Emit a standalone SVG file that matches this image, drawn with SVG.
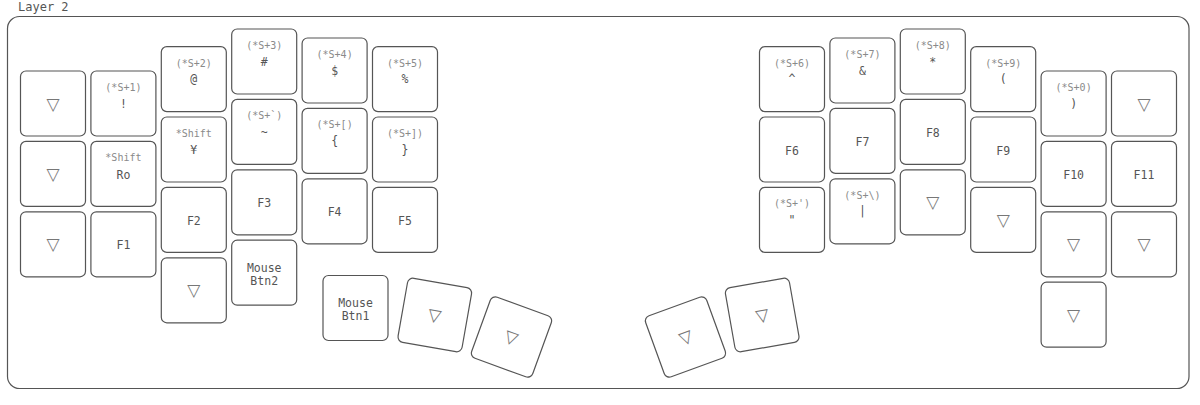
<svg xmlns="http://www.w3.org/2000/svg" width="1200" height="405" viewBox="0 0 1200 405">
<style>
text{font-family:"DejaVu Sans Mono","Liberation Mono",monospace;text-anchor:middle;dominant-baseline:central}
.title{font-size:12px;fill:#555;text-anchor:start}
.board{fill:#fff;stroke:#555;stroke-width:1.2}
.key{fill:#fff;stroke:#555;stroke-width:1.2}
.m{font-size:11.5px;fill:#555}
.s{font-size:10px;fill:#8a8a8a}
.t{font-size:17px;fill:#777;font-family:"DejaVu Sans",sans-serif}
</style>
<defs>
<rect id="k" class="key" x="-32.5" y="-32.5" width="65" height="65" rx="5.5"/>
</defs>
<rect width="1200" height="405" fill="#fff"/>
<text class="title" x="18" y="7">Layer 2</text>
<rect class="board" x="7.5" y="16.5" width="1181.5" height="372" rx="12"/>
<g id="connectors"></g>
<!-- left col0 -->
<g id="k_l0_0" transform="translate(53,103.5)"><use href="#k"/><text class="t" y="0">▽</text></g>
<g id="k_l0_1" transform="translate(53,173.9)"><use href="#k"/><text class="t" y="0">▽</text></g>
<g id="k_l0_2" transform="translate(53,244.3)"><use href="#k"/><text class="t" y="0">▽</text></g>
<!-- col1 -->
<g id="k_l1_0" transform="translate(123.4,103.5)"><use href="#k"/><text class="s" y="-16">(*S+1)</text><text class="m" y="0">!</text></g>
<g id="k_l1_1" transform="translate(123.4,173.9)"><use href="#k"/><text class="s" y="-16">*Shift</text><text class="m" y="1">Ro</text></g>
<g id="k_l1_2" transform="translate(123.4,244.3)"><use href="#k"/><text class="m" y="1">F1</text></g>
<!-- col2 -->
<g id="k_l2_0" transform="translate(193.8,79.1)"><use href="#k"/><text class="s" y="-16">(*S+2)</text><text class="m" y="0">@</text></g>
<g id="k_l2_1" transform="translate(193.8,149.5)"><use href="#k"/><text class="s" y="-16">*Shift</text><text class="m" y="0">¥</text></g>
<g id="k_l2_2" transform="translate(193.8,219.9)"><use href="#k"/><text class="m" y="1">F2</text></g>
<g id="k_l2_3" transform="translate(193.8,290.3)"><use href="#k"/><text class="t" y="0">▽</text></g>
<!-- col3 -->
<g id="k_l3_0" transform="translate(264.2,61.5)"><use href="#k"/><text class="s" y="-16">(*S+3)</text><text class="m" y="0">#</text></g>
<g id="k_l3_1" transform="translate(264.2,131.9)"><use href="#k"/><text class="s" y="-16">(*S+`)</text><text class="m" y="0">~</text></g>
<g id="k_l3_2" transform="translate(264.2,202.3)"><use href="#k"/><text class="m" y="1">F3</text></g>
<g id="k_l3_3" transform="translate(264.2,272.7)"><use href="#k"/><text class="m" y="-5">Mouse</text><text class="m" y="8">Btn2</text></g>
<!-- col4 -->
<g id="k_l4_0" transform="translate(334.6,70.5)"><use href="#k"/><text class="s" y="-16">(*S+4)</text><text class="m" y="0">$</text></g>
<g id="k_l4_1" transform="translate(334.6,140.9)"><use href="#k"/><text class="s" y="-16">(*S+[)</text><text class="m" y="0">{</text></g>
<g id="k_l4_2" transform="translate(334.6,211.3)"><use href="#k"/><text class="m" y="1">F4</text></g>
<!-- col5 -->
<g id="k_l5_0" transform="translate(405,79.1)"><use href="#k"/><text class="s" y="-16">(*S+5)</text><text class="m" y="0">%</text></g>
<g id="k_l5_1" transform="translate(405,149.5)"><use href="#k"/><text class="s" y="-16">(*S+])</text><text class="m" y="0">}</text></g>
<g id="k_l5_2" transform="translate(405,219.9)"><use href="#k"/><text class="m" y="1">F5</text></g>
<!-- left thumbs -->
<g id="k_lt_0" transform="translate(355.5,308)"><use href="#k"/><text class="m" y="-5">Mouse</text><text class="m" y="8">Btn1</text></g>
<g id="k_lt_1" transform="translate(434.8,315) rotate(10)"><use href="#k"/><text class="t" y="0">▽</text></g>
<g id="k_lt_2" transform="translate(511.5,337) rotate(20)"><use href="#k"/><text class="t" y="0">▽</text></g>
<!-- right thumbs -->
<g id="k_rt_0" transform="translate(685.5,337) rotate(-20)"><use href="#k"/><text class="t" y="0">▽</text></g>
<g id="k_rt_1" transform="translate(762.2,315) rotate(-10)"><use href="#k"/><text class="t" y="0">▽</text></g>
<!-- col6 -->
<g id="k_r6_0" transform="translate(792,79.1)"><use href="#k"/><text class="s" y="-16">(*S+6)</text><text class="m" y="0">^</text></g>
<g id="k_r6_1" transform="translate(792,149.5)"><use href="#k"/><text class="m" y="1">F6</text></g>
<g id="k_r6_2" transform="translate(792,219.9)"><use href="#k"/><text class="s" y="-16">(*S+')</text><text class="m" y="0">"</text></g>
<!-- col7 -->
<g id="k_r7_0" transform="translate(862.4,70.5)"><use href="#k"/><text class="s" y="-16">(*S+7)</text><text class="m" y="0">&amp;</text></g>
<g id="k_r7_1" transform="translate(862.4,140.9)"><use href="#k"/><text class="m" y="1">F7</text></g>
<g id="k_r7_2" transform="translate(862.4,211.3)"><use href="#k"/><text class="s" y="-16">(*S+\)</text><text class="m" y="0">|</text></g>
<!-- col8 -->
<g id="k_r8_0" transform="translate(932.8,61.5)"><use href="#k"/><text class="s" y="-16">(*S+8)</text><text class="m" y="0">*</text></g>
<g id="k_r8_1" transform="translate(932.8,131.9)"><use href="#k"/><text class="m" y="1">F8</text></g>
<g id="k_r8_2" transform="translate(932.8,202.3)"><use href="#k"/><text class="t" y="0">▽</text></g>
<!-- col9 -->
<g id="k_r9_0" transform="translate(1003.2,79.1)"><use href="#k"/><text class="s" y="-16">(*S+9)</text><text class="m" y="0">(</text></g>
<g id="k_r9_1" transform="translate(1003.2,149.5)"><use href="#k"/><text class="m" y="1">F9</text></g>
<g id="k_r9_2" transform="translate(1003.2,219.9)"><use href="#k"/><text class="t" y="0">▽</text></g>
<!-- col10 -->
<g id="k_r10_0" transform="translate(1073.6,103.5)"><use href="#k"/><text class="s" y="-16">(*S+0)</text><text class="m" y="0">)</text></g>
<g id="k_r10_1" transform="translate(1073.6,173.9)"><use href="#k"/><text class="m" y="1">F10</text></g>
<g id="k_r10_2" transform="translate(1073.6,244.3)"><use href="#k"/><text class="t" y="0">▽</text></g>
<g id="k_r10_3" transform="translate(1073.6,314.7)"><use href="#k"/><text class="t" y="0">▽</text></g>
<!-- col11 -->
<g id="k_r11_0" transform="translate(1144,103.5)"><use href="#k"/><text class="t" y="0">▽</text></g>
<g id="k_r11_1" transform="translate(1144,173.9)"><use href="#k"/><text class="m" y="1">F11</text></g>
<g id="k_r11_2" transform="translate(1144,244.3)"><use href="#k"/><text class="t" y="0">▽</text></g>
</svg>
